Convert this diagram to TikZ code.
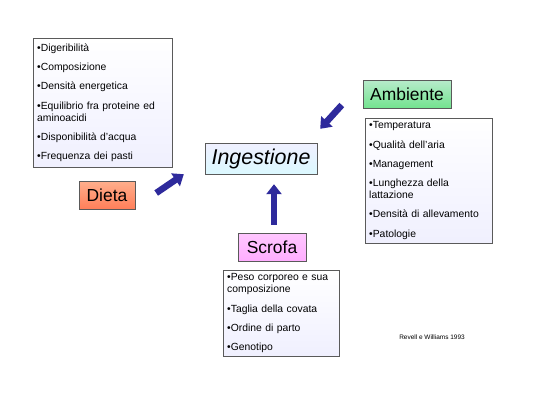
\documentclass[tikz,border=0pt]{standalone}
\usepackage{fontspec}
\setmainfont{Liberation Sans}
\usetikzlibrary{arrows.meta,shadings}
\definecolor{blufreccia}{HTML}{2E2A9C}
\definecolor{bordo}{HTML}{5A5A5A}
\tikzset{
  lista/.style={draw=bordo, top color=white, bottom color=black!4!blue!6, anchor=north west,
    align=left, inner xsep=4bp, inner ysep=3.5bp, font=\fontsize{10.4}{12}\selectfont},
  etichetta/.style={draw=bordo, minimum height=28bp, inner xsep=5bp, font=\fontsize{17.5}{20}\selectfont},
  freccia/.style={draw=blufreccia, line width=6.5bp, -{Triangle[width=15bp,length=10bp]}},
}
\newcommand{\voce}{\\[7.3bp]}
\begin{document}
\begin{tikzpicture}[x=1bp,y=1bp]
  \useasboundingbox (0,0) rectangle (550,400);
  \fill[white] (0,0) rectangle (550,400);

  % blocchi centrali
  \node[etichetta, top color=blue!6, bottom color=blue!18!cyan!14, minimum width=112bp,
        minimum height=31bp, font=\fontsize{21.5}{24}\itshape] (ingest) at (261,241.5) {Ingestione};
  \node[etichetta, top color=red!40!orange!45, bottom color=red!55!orange!65,
        minimum width=56bp] (dieta) at (107,205) {Dieta};
  \node[etichetta, top color=magenta!22, bottom color=magenta!32, minimum width=68bp] (scrofa) at (272,153) {Scrofa};
  \node[etichetta, top color=green!45!teal!28, bottom color=green!60!teal!55, minimum width=88bp] (ambiente) at (407,306) {Ambiente};

  % elenchi
  \node[lista, text width=131bp, minimum height=129bp] (dietalist) at (33,362) {%
    •Digeribilità\voce
    •Composizione\voce
    •Densità energetica\voce
    •Equilibrio fra proteine ed\\aminoacidi\voce
    •Disponibilità d’acqua\voce
    •Frequenza dei pasti};
  \node[lista, text width=119bp] (ambientelist) at (365,282) {%
    •Temperatura\voce
    •Qualità dell’aria\voce
    •Management\voce
    •Lunghezza della\\lattazione\voce
    •Densità di allevamento\voce
    •Patologie};
  \node[lista, text width=108bp] (scrofalist) at (223,130) {%
    •Peso corporeo e sua\\composizione\voce
    •Taglia della covata\voce
    •Ordine di parto\voce
    •Genotipo};

  \node[font=\fontsize{6.5}{7}\selectfont] (fonte) at (432,63) {Revell e Williams 1993};

  % frecce
  \draw[freccia] ([shift={(21,2)}]dieta.east) -- ([shift={(-21,0)}]ingest.south west);
  \draw[freccia] ([shift={(2,8)}]scrofa.north) -- ([shift={(13,-10)}]ingest.south);
  \draw[freccia] ([shift={(-21,-11)}]ambiente.west) -- ([shift={(3,14)}]ingest.north east);
\end{tikzpicture}
\end{document}
